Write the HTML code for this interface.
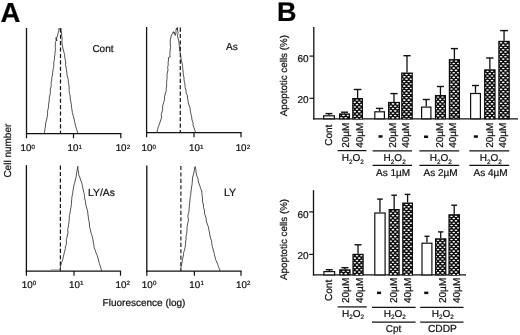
<!DOCTYPE html>
<html><head><meta charset="utf-8"><style>
html,body{margin:0;padding:0;background:#fff;}
body{width:520px;height:335px;overflow:hidden;}
svg{display:block;will-change:transform;}
text{font-family:"Liberation Sans",sans-serif;text-rendering:geometricPrecision;stroke:#111;stroke-width:0.22px;}
</style></head><body>
<svg width="520" height="335" viewBox="0 0 520 335" font-family="Liberation Sans, sans-serif">
<rect width="520" height="335" fill="#fff"/>
<text x="0.5" y="21.9" font-size="27.6" text-anchor="start" fill="#000" font-weight="bold" >A</text>
<text x="276.9" y="21.0" font-size="27" text-anchor="start" fill="#000" font-weight="bold" >B</text>
<line x1="26.5" y1="28" x2="26.5" y2="134.2" stroke="#111" stroke-width="1.3" />
<line x1="25.9" y1="133.6" x2="121.39999999999999" y2="133.6" stroke="#111" stroke-width="1.3" />
<line x1="26.5" y1="133.6" x2="26.5" y2="138.2" stroke="#111" stroke-width="1.2" />
<line x1="73.5" y1="133.6" x2="73.5" y2="138.2" stroke="#111" stroke-width="1.2" />
<line x1="120.8" y1="133.6" x2="120.8" y2="138.2" stroke="#111" stroke-width="1.2" />
<line x1="146.6" y1="27" x2="146.6" y2="133.29999999999998" stroke="#111" stroke-width="1.3" />
<line x1="146.0" y1="132.7" x2="241.6" y2="132.7" stroke="#111" stroke-width="1.3" />
<line x1="146.6" y1="132.7" x2="146.6" y2="137.29999999999998" stroke="#111" stroke-width="1.2" />
<line x1="194" y1="132.7" x2="194" y2="137.29999999999998" stroke="#111" stroke-width="1.2" />
<line x1="241" y1="132.7" x2="241" y2="137.29999999999998" stroke="#111" stroke-width="1.2" />
<line x1="26.4" y1="165.1" x2="26.4" y2="271.70000000000005" stroke="#111" stroke-width="1.3" />
<line x1="25.799999999999997" y1="271.1" x2="121.1" y2="271.1" stroke="#111" stroke-width="1.3" />
<line x1="26.4" y1="271.1" x2="26.4" y2="275.70000000000005" stroke="#111" stroke-width="1.2" />
<line x1="74" y1="271.1" x2="74" y2="275.70000000000005" stroke="#111" stroke-width="1.2" />
<line x1="120.5" y1="271.1" x2="120.5" y2="275.70000000000005" stroke="#111" stroke-width="1.2" />
<line x1="146.8" y1="165.6" x2="146.8" y2="271.70000000000005" stroke="#111" stroke-width="1.3" />
<line x1="146.20000000000002" y1="271.1" x2="241.6" y2="271.1" stroke="#111" stroke-width="1.3" />
<line x1="146.8" y1="271.1" x2="146.8" y2="275.70000000000005" stroke="#111" stroke-width="1.2" />
<line x1="194.4" y1="271.1" x2="194.4" y2="275.70000000000005" stroke="#111" stroke-width="1.2" />
<line x1="241" y1="271.1" x2="241" y2="275.70000000000005" stroke="#111" stroke-width="1.2" />
<text x="26.0" y="150.9" font-size="9.8" text-anchor="middle" fill="#111" >10</text>
<text x="31.6" y="148.6" font-size="6.2" text-anchor="start" fill="#111" >0</text>
<text x="72.9" y="150.9" font-size="9.8" text-anchor="middle" fill="#111" >10</text>
<text x="78.5" y="148.6" font-size="6.2" text-anchor="start" fill="#111" >1</text>
<text x="121.1" y="150.9" font-size="9.8" text-anchor="middle" fill="#111" >10</text>
<text x="126.69999999999999" y="148.6" font-size="6.2" text-anchor="start" fill="#111" >2</text>
<text x="147.0" y="150.9" font-size="9.8" text-anchor="middle" fill="#111" >10</text>
<text x="152.6" y="148.6" font-size="6.2" text-anchor="start" fill="#111" >0</text>
<text x="194.4" y="150.9" font-size="9.8" text-anchor="middle" fill="#111" >10</text>
<text x="200.0" y="148.6" font-size="6.2" text-anchor="start" fill="#111" >1</text>
<text x="241.1" y="150.9" font-size="9.8" text-anchor="middle" fill="#111" >10</text>
<text x="246.7" y="148.6" font-size="6.2" text-anchor="start" fill="#111" >2</text>
<text x="27.2" y="287.5" font-size="9.8" text-anchor="middle" fill="#111" >10</text>
<text x="32.8" y="285.2" font-size="6.2" text-anchor="start" fill="#111" >0</text>
<text x="74.5" y="287.5" font-size="9.8" text-anchor="middle" fill="#111" >10</text>
<text x="80.1" y="285.2" font-size="6.2" text-anchor="start" fill="#111" >1</text>
<text x="121.0" y="287.5" font-size="9.8" text-anchor="middle" fill="#111" >10</text>
<text x="126.6" y="285.2" font-size="6.2" text-anchor="start" fill="#111" >2</text>
<text x="147.3" y="287.5" font-size="9.8" text-anchor="middle" fill="#111" >10</text>
<text x="152.9" y="285.2" font-size="6.2" text-anchor="start" fill="#111" >0</text>
<text x="194.8" y="287.5" font-size="9.8" text-anchor="middle" fill="#111" >10</text>
<text x="200.4" y="285.2" font-size="6.2" text-anchor="start" fill="#111" >1</text>
<text x="241.4" y="287.5" font-size="9.8" text-anchor="middle" fill="#111" >10</text>
<text x="247.0" y="285.2" font-size="6.2" text-anchor="start" fill="#111" >2</text>
<line x1="60.5" y1="28.3" x2="60.5" y2="133.6" stroke="#111" stroke-width="1.2" stroke-dasharray="4.1 2.3"/>
<line x1="180.3" y1="27.6" x2="180.3" y2="132.7" stroke="#111" stroke-width="1.2" stroke-dasharray="4.1 2.3"/>
<line x1="60.4" y1="165.6" x2="60.4" y2="271" stroke="#111" stroke-width="1.2" stroke-dasharray="4.1 2.3"/>
<line x1="180.9" y1="166" x2="180.9" y2="271" stroke="#111" stroke-width="1.1" stroke-dasharray="4.1 2.3"/>
<polyline points="44.3,133.6 44.7,131.07 44.94,128.53 45.5,126.0 45.69,123.0 46.5,120.0 47.19,116.9 47.6,113.8 47.52,111.2 48.23,108.6 48.5,106.0 48.78,103.0 49.3,100.0 49.3,97.2 50.1,94.4 50.41,91.93 50.28,89.47 51.0,87.0 51.21,84.67 51.15,82.33 51.8,80.0 51.78,77.5 52.5,75.0 52.73,72.15 53.1,69.3 53.74,66.65 53.8,64.0 53.81,61.75 54.5,59.5 54.42,57.0 54.95,54.5 55.0,52.0 55.5,49.67 55.27,47.33 55.3,45.0 55.41,42.67 56.13,40.33 55.9,38.0 56.1,37.5 56.8,41.0 56.64,38.5 57.3,36.0 58.2,33.0 58.87,30.65 58.9,28.3 60.0,29.5 61.0,28.3 61.11,30.65 61.6,33.0 61.8,37.0 62.2,38.0 61.95,40.63 61.99,43.27 62.4,45.9 63.3,50.0 64.2,53.2 64.6,54.6 64.73,57.05 65.2,59.5 65.75,62.0 65.45,64.5 66.0,67.0 66.41,69.67 66.79,72.33 67.0,75.0 68.2,79.2 68.42,82.13 68.91,85.07 69.2,88.0 69.14,90.67 69.47,93.33 70.2,96.0 70.29,99.1 70.9,102.2 71.43,104.8 71.57,107.4 72.0,110.0 72.33,112.5 73.0,115.0 73.83,118.0 74.5,121.0 75.06,123.7 75.7,126.4 76.8,130.0 78.1,133.6" fill="none" stroke="#333" stroke-width="0.85" stroke-linejoin="round"/>
<polyline points="157,132.7 157.5,129.55 158.5,126.4 159.8,123.0 160.8,119.6 161.62,117.07 161.26,114.53 162.0,112.0 162.61,109.55 162.48,107.1 163.05,104.65 163.7,102.2 164.55,99.6 164.5,97.0 165.5,93.0 166.3,90.5 166.16,88.24 166.67,85.98 166.62,83.72 166.74,81.46 166.9,79.2 167.1,76.8 167.02,74.4 167.5,72.0 168.03,69.77 167.6,67.53 168.2,65.3 168.11,62.65 168.5,60.0 168.4,57.5 170.2,57.0 169.79,54.6 170.03,52.2 170.18,49.8 170.64,47.4 170.3,45.0 170.24,42.05 170.4,39.1 171.5,35.0 172.5,33.5 173.4,31.6 173.9,33.5 174.4,32.2 175.2,35.5 176.0,33.0 175.9,30.55 176.5,28.1 177.0,30.0 177.6,27.4 177.46,30.0 178.19,32.6 177.43,35.2 177.9,37.8 178.6,40.0 179.06,43.0 179.3,46.0 179.54,49.0 180.0,52.0 180.64,54.9 181.0,57.8 181.35,60.4 182.0,63.0 182.52,65.35 182.7,67.7 182.9,70.13 183.23,72.57 183.3,75.0 184.01,77.5 184.0,80.0 184.57,82.5 185.0,85.0 185.18,87.75 186.0,90.5 186.11,93.0 187.4,95.5 187.5,98.0 187.99,100.33 188.22,102.67 189.0,105.0 190.03,107.93 190.34,110.87 190.9,113.8 191.66,116.9 192.0,120.0 192.94,122.47 193.01,124.93 193.8,127.4 194.75,130.05 195.7,132.7" fill="none" stroke="#333" stroke-width="0.85" stroke-linejoin="round"/>
<polyline points="60.1,271 60.3,268.5 60.5,266.0 61.5,262.8 62.7,259.7 63.32,256.85 64.0,254.0 64.59,251.35 65.4,248.7 65.41,246.47 66.4,244.23 66.4,242.0 66.29,239.67 67.07,237.33 67.4,235.0 68.06,232.33 67.62,229.67 68.3,227.0 68.68,224.17 69.07,221.33 69.3,218.5 69.29,215.75 70.1,213.0 70.39,210.25 70.9,207.5 71.38,204.75 71.5,202.0 71.71,199.25 72.0,196.5 72.65,193.75 72.9,191.0 73.5,188.0 73.74,185.65 74.6,183.3 75.3,180.0 76.0,177.9 76.5,174.0 77.2,170.0 77.8,166.3 77.91,169.15 78.5,172.0 78.7,174.5 79.6,177.0 80.7,180.0 81.9,183.3 82.36,185.65 82.8,188.0 83.7,192.3 84.45,194.53 84.51,196.77 84.8,199.0 85.55,201.9 85.8,204.8 86.7,208.0 87.6,211.0 87.8,213.5 88.2,216.0 88.5,219.1 89.22,222.05 89.5,225.0 89.64,227.5 90.5,230.0 90.86,232.2 91.6,234.4 92.32,236.93 92.94,239.47 93.3,242.0 93.83,244.67 94.13,247.33 95.1,250.0 96.04,252.9 97.4,255.8 98.4,260.0 99.4,263.5 100.5,267.0 101.7,271.0" fill="none" stroke="#333" stroke-width="0.85" stroke-linejoin="round"/>
<polyline points="180.3,271 181.0,267.0 181.7,263.7 182.2,261.47 182.5,259.23 183.0,257.0 183.54,254.77 183.67,252.53 184.4,250.3 185.08,247.53 185.49,244.77 185.6,242.0 186.1,239.2 186.03,236.4 186.7,233.6 186.94,231.2 186.99,228.8 187.15,226.4 187.6,224.0 188.21,221.38 188.45,218.75 187.79,216.12 188.4,213.5 189.02,211.2 189.09,208.9 189.3,206.6 189.54,203.35 190.0,200.1 190.07,197.73 190.69,195.37 190.8,193.0 191.16,190.0 191.6,187.0 192.03,184.67 192.28,182.33 192.4,180.0 192.67,177.0 193.6,174.0 194.4,170.0 195.1,166.5 195.79,169.25 196.0,172.0 196.9,176.1 197.98,178.55 198.2,181.0 199.5,185.0 200.8,188.7 201.72,191.05 201.8,193.4 202.25,196.2 202.5,199.0 202.59,202.0 203.5,205.0 203.5,207.6 204.4,210.2 204.52,213.1 205.3,216.0 206.2,218.5 206.3,221.0 207.3,224.0 208.4,226.9 208.72,229.45 209.4,232.0 209.83,235.0 210.5,238.0 211.51,240.8 211.8,243.6 212.38,246.8 213.3,250.0 213.94,252.33 214.44,254.67 215.1,257.0 215.56,259.5 216.8,262.0 217.68,264.25 218.4,266.5 219.3,268.75 220.2,271.0" fill="none" stroke="#333" stroke-width="0.85" stroke-linejoin="round"/>
<line x1="50.8" y1="269.9" x2="60.2" y2="269.9" stroke="#888" stroke-width="0.9" />
<text x="92.4" y="51.5" font-size="10" text-anchor="start" fill="#111" >Cont</text>
<text x="226" y="50.1" font-size="10" text-anchor="start" fill="#111" >As</text>
<text x="88.1" y="195.7" font-size="10.3" text-anchor="start" fill="#111" >LY/As</text>
<text x="224.0" y="195.9" font-size="10.6" text-anchor="start" fill="#111" >LY</text>
<text transform="translate(10.5,177.6) rotate(-90)" font-size="10" fill="#111">Cell number</text>
<text x="102.6" y="305.8" font-size="10" text-anchor="start" fill="#111" >Fluorescence (log)</text>
<defs><pattern id="chk" x="0.3" y="0.5" width="4.6" height="4.7" patternUnits="userSpaceOnUse">
<rect width="4.6" height="4.7" fill="#0c0c0c"/>
<ellipse cx="1.2" cy="1.2" rx="1.4" ry="0.8" fill="#fff"/>
<ellipse cx="3.5" cy="3.55" rx="1.4" ry="0.8" fill="#fff"/>
</pattern></defs>
<line x1="313.8" y1="27" x2="313.8" y2="119.39999999999999" stroke="#111" stroke-width="1.3" />
<line x1="313.2" y1="118.8" x2="518" y2="118.8" stroke="#111" stroke-width="1.3" />
<line x1="309.5" y1="56.1" x2="313.8" y2="56.1" stroke="#111" stroke-width="1.2" />
<text x="308.6" y="62.2" font-size="10" text-anchor="end" fill="#111" >60</text>
<line x1="309.5" y1="98.3" x2="313.8" y2="98.3" stroke="#111" stroke-width="1.2" />
<text x="308.6" y="102.9" font-size="10" text-anchor="end" fill="#111" >20</text>
<line x1="329.0" y1="113.6" x2="329.0" y2="115.2" stroke="#111" stroke-width="1.3" />
<line x1="325.5" y1="113.6" x2="332.5" y2="113.6" stroke="#111" stroke-width="1.4" />
<rect x="323.6" y="115.8" width="10.8" height="2.9999999999999942" fill="#fff" stroke="#111" stroke-width="1.2"/>
<line x1="344.5" y1="112.2" x2="344.5" y2="113.4" stroke="#111" stroke-width="1.3" />
<line x1="341.0" y1="112.2" x2="348.0" y2="112.2" stroke="#111" stroke-width="1.4" />
<clipPath id="c1"><rect x="340.2" y="114.60000000000001" width="8.600000000000023" height="4.199999999999989"/></clipPath>
<rect x="339.6" y="114.0" width="9.8" height="4.799999999999992" fill="#0c0c0c" stroke="#0c0c0c" stroke-width="1.2"/>
<g clip-path="url(#c1)" fill="#fff"><ellipse cx="339.00" cy="115.40" rx="1.4" ry="0.8"/><ellipse cx="343.50" cy="115.40" rx="1.4" ry="0.8"/><ellipse cx="348.00" cy="115.40" rx="1.4" ry="0.8"/><ellipse cx="341.25" cy="117.73" rx="1.4" ry="0.8"/><ellipse cx="345.75" cy="117.73" rx="1.4" ry="0.8"/><ellipse cx="350.25" cy="117.73" rx="1.4" ry="0.8"/></g>
<line x1="357.6" y1="89.5" x2="357.6" y2="98" stroke="#111" stroke-width="1.3" />
<line x1="353.8" y1="89.5" x2="361.40000000000003" y2="89.5" stroke="#111" stroke-width="1.4" />
<clipPath id="c2"><rect x="353.4" y="99.2" width="8.400000000000034" height="19.599999999999994"/></clipPath>
<rect x="352.8" y="98.6" width="9.600000000000012" height="20.199999999999996" fill="#0c0c0c" stroke="#0c0c0c" stroke-width="1.2"/>
<g clip-path="url(#c2)" fill="#fff"><ellipse cx="352.50" cy="100.00" rx="1.4" ry="0.8"/><ellipse cx="357.00" cy="100.00" rx="1.4" ry="0.8"/><ellipse cx="361.50" cy="100.00" rx="1.4" ry="0.8"/><ellipse cx="354.75" cy="102.33" rx="1.4" ry="0.8"/><ellipse cx="359.25" cy="102.33" rx="1.4" ry="0.8"/><ellipse cx="363.75" cy="102.33" rx="1.4" ry="0.8"/><ellipse cx="352.50" cy="104.66" rx="1.4" ry="0.8"/><ellipse cx="357.00" cy="104.66" rx="1.4" ry="0.8"/><ellipse cx="361.50" cy="104.66" rx="1.4" ry="0.8"/><ellipse cx="354.75" cy="106.99" rx="1.4" ry="0.8"/><ellipse cx="359.25" cy="106.99" rx="1.4" ry="0.8"/><ellipse cx="363.75" cy="106.99" rx="1.4" ry="0.8"/><ellipse cx="352.50" cy="109.32" rx="1.4" ry="0.8"/><ellipse cx="357.00" cy="109.32" rx="1.4" ry="0.8"/><ellipse cx="361.50" cy="109.32" rx="1.4" ry="0.8"/><ellipse cx="354.75" cy="111.65" rx="1.4" ry="0.8"/><ellipse cx="359.25" cy="111.65" rx="1.4" ry="0.8"/><ellipse cx="363.75" cy="111.65" rx="1.4" ry="0.8"/><ellipse cx="352.50" cy="113.98" rx="1.4" ry="0.8"/><ellipse cx="357.00" cy="113.98" rx="1.4" ry="0.8"/><ellipse cx="361.50" cy="113.98" rx="1.4" ry="0.8"/><ellipse cx="354.75" cy="116.31" rx="1.4" ry="0.8"/><ellipse cx="359.25" cy="116.31" rx="1.4" ry="0.8"/><ellipse cx="363.75" cy="116.31" rx="1.4" ry="0.8"/><ellipse cx="352.50" cy="118.64" rx="1.4" ry="0.8"/><ellipse cx="357.00" cy="118.64" rx="1.4" ry="0.8"/><ellipse cx="361.50" cy="118.64" rx="1.4" ry="0.8"/></g>
<line x1="379.6" y1="108.4" x2="379.6" y2="111.2" stroke="#111" stroke-width="1.3" />
<line x1="376.0" y1="108.4" x2="383.20000000000005" y2="108.4" stroke="#111" stroke-width="1.4" />
<rect x="374.8" y="111.8" width="9.600000000000012" height="6.999999999999995" fill="#fff" stroke="#111" stroke-width="1.2"/>
<line x1="394.0" y1="93.6" x2="394.0" y2="101.9" stroke="#111" stroke-width="1.3" />
<line x1="390.4" y1="93.6" x2="397.6" y2="93.6" stroke="#111" stroke-width="1.4" />
<clipPath id="c3"><rect x="389.2" y="103.10000000000001" width="9.600000000000023" height="15.699999999999989"/></clipPath>
<rect x="388.6" y="102.5" width="10.8" height="16.29999999999999" fill="#0c0c0c" stroke="#0c0c0c" stroke-width="1.2"/>
<g clip-path="url(#c3)" fill="#fff"><ellipse cx="388.50" cy="103.90" rx="1.4" ry="0.8"/><ellipse cx="393.00" cy="103.90" rx="1.4" ry="0.8"/><ellipse cx="397.50" cy="103.90" rx="1.4" ry="0.8"/><ellipse cx="390.75" cy="106.23" rx="1.4" ry="0.8"/><ellipse cx="395.25" cy="106.23" rx="1.4" ry="0.8"/><ellipse cx="399.75" cy="106.23" rx="1.4" ry="0.8"/><ellipse cx="388.50" cy="108.56" rx="1.4" ry="0.8"/><ellipse cx="393.00" cy="108.56" rx="1.4" ry="0.8"/><ellipse cx="397.50" cy="108.56" rx="1.4" ry="0.8"/><ellipse cx="390.75" cy="110.89" rx="1.4" ry="0.8"/><ellipse cx="395.25" cy="110.89" rx="1.4" ry="0.8"/><ellipse cx="399.75" cy="110.89" rx="1.4" ry="0.8"/><ellipse cx="388.50" cy="113.22" rx="1.4" ry="0.8"/><ellipse cx="393.00" cy="113.22" rx="1.4" ry="0.8"/><ellipse cx="397.50" cy="113.22" rx="1.4" ry="0.8"/><ellipse cx="390.75" cy="115.55" rx="1.4" ry="0.8"/><ellipse cx="395.25" cy="115.55" rx="1.4" ry="0.8"/><ellipse cx="399.75" cy="115.55" rx="1.4" ry="0.8"/><ellipse cx="388.50" cy="117.88" rx="1.4" ry="0.8"/><ellipse cx="393.00" cy="117.88" rx="1.4" ry="0.8"/><ellipse cx="397.50" cy="117.88" rx="1.4" ry="0.8"/></g>
<line x1="407.0" y1="55.7" x2="407.0" y2="72.5" stroke="#111" stroke-width="1.3" />
<line x1="403.4" y1="55.7" x2="410.6" y2="55.7" stroke="#111" stroke-width="1.4" />
<clipPath id="c4"><rect x="402.4" y="73.7" width="9.200000000000045" height="45.099999999999994"/></clipPath>
<rect x="401.8" y="73.1" width="10.400000000000023" height="45.699999999999996" fill="#0c0c0c" stroke="#0c0c0c" stroke-width="1.2"/>
<g clip-path="url(#c4)" fill="#fff"><ellipse cx="397.50" cy="74.50" rx="1.4" ry="0.8"/><ellipse cx="402.00" cy="74.50" rx="1.4" ry="0.8"/><ellipse cx="406.50" cy="74.50" rx="1.4" ry="0.8"/><ellipse cx="411.00" cy="74.50" rx="1.4" ry="0.8"/><ellipse cx="399.75" cy="76.83" rx="1.4" ry="0.8"/><ellipse cx="404.25" cy="76.83" rx="1.4" ry="0.8"/><ellipse cx="408.75" cy="76.83" rx="1.4" ry="0.8"/><ellipse cx="413.25" cy="76.83" rx="1.4" ry="0.8"/><ellipse cx="397.50" cy="79.16" rx="1.4" ry="0.8"/><ellipse cx="402.00" cy="79.16" rx="1.4" ry="0.8"/><ellipse cx="406.50" cy="79.16" rx="1.4" ry="0.8"/><ellipse cx="411.00" cy="79.16" rx="1.4" ry="0.8"/><ellipse cx="399.75" cy="81.49" rx="1.4" ry="0.8"/><ellipse cx="404.25" cy="81.49" rx="1.4" ry="0.8"/><ellipse cx="408.75" cy="81.49" rx="1.4" ry="0.8"/><ellipse cx="413.25" cy="81.49" rx="1.4" ry="0.8"/><ellipse cx="397.50" cy="83.82" rx="1.4" ry="0.8"/><ellipse cx="402.00" cy="83.82" rx="1.4" ry="0.8"/><ellipse cx="406.50" cy="83.82" rx="1.4" ry="0.8"/><ellipse cx="411.00" cy="83.82" rx="1.4" ry="0.8"/><ellipse cx="399.75" cy="86.15" rx="1.4" ry="0.8"/><ellipse cx="404.25" cy="86.15" rx="1.4" ry="0.8"/><ellipse cx="408.75" cy="86.15" rx="1.4" ry="0.8"/><ellipse cx="413.25" cy="86.15" rx="1.4" ry="0.8"/><ellipse cx="397.50" cy="88.48" rx="1.4" ry="0.8"/><ellipse cx="402.00" cy="88.48" rx="1.4" ry="0.8"/><ellipse cx="406.50" cy="88.48" rx="1.4" ry="0.8"/><ellipse cx="411.00" cy="88.48" rx="1.4" ry="0.8"/><ellipse cx="399.75" cy="90.81" rx="1.4" ry="0.8"/><ellipse cx="404.25" cy="90.81" rx="1.4" ry="0.8"/><ellipse cx="408.75" cy="90.81" rx="1.4" ry="0.8"/><ellipse cx="413.25" cy="90.81" rx="1.4" ry="0.8"/><ellipse cx="397.50" cy="93.14" rx="1.4" ry="0.8"/><ellipse cx="402.00" cy="93.14" rx="1.4" ry="0.8"/><ellipse cx="406.50" cy="93.14" rx="1.4" ry="0.8"/><ellipse cx="411.00" cy="93.14" rx="1.4" ry="0.8"/><ellipse cx="399.75" cy="95.47" rx="1.4" ry="0.8"/><ellipse cx="404.25" cy="95.47" rx="1.4" ry="0.8"/><ellipse cx="408.75" cy="95.47" rx="1.4" ry="0.8"/><ellipse cx="413.25" cy="95.47" rx="1.4" ry="0.8"/><ellipse cx="397.50" cy="97.80" rx="1.4" ry="0.8"/><ellipse cx="402.00" cy="97.80" rx="1.4" ry="0.8"/><ellipse cx="406.50" cy="97.80" rx="1.4" ry="0.8"/><ellipse cx="411.00" cy="97.80" rx="1.4" ry="0.8"/><ellipse cx="399.75" cy="100.13" rx="1.4" ry="0.8"/><ellipse cx="404.25" cy="100.13" rx="1.4" ry="0.8"/><ellipse cx="408.75" cy="100.13" rx="1.4" ry="0.8"/><ellipse cx="413.25" cy="100.13" rx="1.4" ry="0.8"/><ellipse cx="397.50" cy="102.46" rx="1.4" ry="0.8"/><ellipse cx="402.00" cy="102.46" rx="1.4" ry="0.8"/><ellipse cx="406.50" cy="102.46" rx="1.4" ry="0.8"/><ellipse cx="411.00" cy="102.46" rx="1.4" ry="0.8"/><ellipse cx="399.75" cy="104.79" rx="1.4" ry="0.8"/><ellipse cx="404.25" cy="104.79" rx="1.4" ry="0.8"/><ellipse cx="408.75" cy="104.79" rx="1.4" ry="0.8"/><ellipse cx="413.25" cy="104.79" rx="1.4" ry="0.8"/><ellipse cx="397.50" cy="107.12" rx="1.4" ry="0.8"/><ellipse cx="402.00" cy="107.12" rx="1.4" ry="0.8"/><ellipse cx="406.50" cy="107.12" rx="1.4" ry="0.8"/><ellipse cx="411.00" cy="107.12" rx="1.4" ry="0.8"/><ellipse cx="399.75" cy="109.45" rx="1.4" ry="0.8"/><ellipse cx="404.25" cy="109.45" rx="1.4" ry="0.8"/><ellipse cx="408.75" cy="109.45" rx="1.4" ry="0.8"/><ellipse cx="413.25" cy="109.45" rx="1.4" ry="0.8"/><ellipse cx="397.50" cy="111.78" rx="1.4" ry="0.8"/><ellipse cx="402.00" cy="111.78" rx="1.4" ry="0.8"/><ellipse cx="406.50" cy="111.78" rx="1.4" ry="0.8"/><ellipse cx="411.00" cy="111.78" rx="1.4" ry="0.8"/><ellipse cx="399.75" cy="114.11" rx="1.4" ry="0.8"/><ellipse cx="404.25" cy="114.11" rx="1.4" ry="0.8"/><ellipse cx="408.75" cy="114.11" rx="1.4" ry="0.8"/><ellipse cx="413.25" cy="114.11" rx="1.4" ry="0.8"/><ellipse cx="397.50" cy="116.44" rx="1.4" ry="0.8"/><ellipse cx="402.00" cy="116.44" rx="1.4" ry="0.8"/><ellipse cx="406.50" cy="116.44" rx="1.4" ry="0.8"/><ellipse cx="411.00" cy="116.44" rx="1.4" ry="0.8"/><ellipse cx="399.75" cy="118.77" rx="1.4" ry="0.8"/><ellipse cx="404.25" cy="118.77" rx="1.4" ry="0.8"/><ellipse cx="408.75" cy="118.77" rx="1.4" ry="0.8"/><ellipse cx="413.25" cy="118.77" rx="1.4" ry="0.8"/></g>
<line x1="426.25" y1="99.5" x2="426.25" y2="106.5" stroke="#111" stroke-width="1.3" />
<line x1="422.75" y1="99.5" x2="429.75" y2="99.5" stroke="#111" stroke-width="1.4" />
<rect x="421.6" y="107.1" width="9.3" height="11.699999999999998" fill="#fff" stroke="#111" stroke-width="1.2"/>
<line x1="440.45" y1="86.5" x2="440.45" y2="95" stroke="#111" stroke-width="1.3" />
<line x1="436.95" y1="86.5" x2="443.95" y2="86.5" stroke="#111" stroke-width="1.4" />
<clipPath id="c5"><rect x="436.09999999999997" y="96.2" width="8.700000000000045" height="22.599999999999994"/></clipPath>
<rect x="435.5" y="95.6" width="9.900000000000023" height="23.199999999999996" fill="#0c0c0c" stroke="#0c0c0c" stroke-width="1.2"/>
<g clip-path="url(#c5)" fill="#fff"><ellipse cx="433.50" cy="97.00" rx="1.4" ry="0.8"/><ellipse cx="438.00" cy="97.00" rx="1.4" ry="0.8"/><ellipse cx="442.50" cy="97.00" rx="1.4" ry="0.8"/><ellipse cx="435.75" cy="99.33" rx="1.4" ry="0.8"/><ellipse cx="440.25" cy="99.33" rx="1.4" ry="0.8"/><ellipse cx="444.75" cy="99.33" rx="1.4" ry="0.8"/><ellipse cx="433.50" cy="101.66" rx="1.4" ry="0.8"/><ellipse cx="438.00" cy="101.66" rx="1.4" ry="0.8"/><ellipse cx="442.50" cy="101.66" rx="1.4" ry="0.8"/><ellipse cx="435.75" cy="103.99" rx="1.4" ry="0.8"/><ellipse cx="440.25" cy="103.99" rx="1.4" ry="0.8"/><ellipse cx="444.75" cy="103.99" rx="1.4" ry="0.8"/><ellipse cx="433.50" cy="106.32" rx="1.4" ry="0.8"/><ellipse cx="438.00" cy="106.32" rx="1.4" ry="0.8"/><ellipse cx="442.50" cy="106.32" rx="1.4" ry="0.8"/><ellipse cx="435.75" cy="108.65" rx="1.4" ry="0.8"/><ellipse cx="440.25" cy="108.65" rx="1.4" ry="0.8"/><ellipse cx="444.75" cy="108.65" rx="1.4" ry="0.8"/><ellipse cx="433.50" cy="110.98" rx="1.4" ry="0.8"/><ellipse cx="438.00" cy="110.98" rx="1.4" ry="0.8"/><ellipse cx="442.50" cy="110.98" rx="1.4" ry="0.8"/><ellipse cx="435.75" cy="113.31" rx="1.4" ry="0.8"/><ellipse cx="440.25" cy="113.31" rx="1.4" ry="0.8"/><ellipse cx="444.75" cy="113.31" rx="1.4" ry="0.8"/><ellipse cx="433.50" cy="115.64" rx="1.4" ry="0.8"/><ellipse cx="438.00" cy="115.64" rx="1.4" ry="0.8"/><ellipse cx="442.50" cy="115.64" rx="1.4" ry="0.8"/><ellipse cx="435.75" cy="117.97" rx="1.4" ry="0.8"/><ellipse cx="440.25" cy="117.97" rx="1.4" ry="0.8"/><ellipse cx="444.75" cy="117.97" rx="1.4" ry="0.8"/></g>
<line x1="454.4" y1="48.6" x2="454.4" y2="59.1" stroke="#111" stroke-width="1.3" />
<line x1="450.84999999999997" y1="48.6" x2="457.95" y2="48.6" stroke="#111" stroke-width="1.4" />
<clipPath id="c6"><rect x="450.0" y="60.300000000000004" width="8.800000000000011" height="58.49999999999999"/></clipPath>
<rect x="449.40000000000003" y="59.7" width="9.99999999999999" height="59.099999999999994" fill="#0c0c0c" stroke="#0c0c0c" stroke-width="1.2"/>
<g clip-path="url(#c6)" fill="#fff"><ellipse cx="447.00" cy="61.10" rx="1.4" ry="0.8"/><ellipse cx="451.50" cy="61.10" rx="1.4" ry="0.8"/><ellipse cx="456.00" cy="61.10" rx="1.4" ry="0.8"/><ellipse cx="460.50" cy="61.10" rx="1.4" ry="0.8"/><ellipse cx="449.25" cy="63.43" rx="1.4" ry="0.8"/><ellipse cx="453.75" cy="63.43" rx="1.4" ry="0.8"/><ellipse cx="458.25" cy="63.43" rx="1.4" ry="0.8"/><ellipse cx="447.00" cy="65.76" rx="1.4" ry="0.8"/><ellipse cx="451.50" cy="65.76" rx="1.4" ry="0.8"/><ellipse cx="456.00" cy="65.76" rx="1.4" ry="0.8"/><ellipse cx="460.50" cy="65.76" rx="1.4" ry="0.8"/><ellipse cx="449.25" cy="68.09" rx="1.4" ry="0.8"/><ellipse cx="453.75" cy="68.09" rx="1.4" ry="0.8"/><ellipse cx="458.25" cy="68.09" rx="1.4" ry="0.8"/><ellipse cx="447.00" cy="70.42" rx="1.4" ry="0.8"/><ellipse cx="451.50" cy="70.42" rx="1.4" ry="0.8"/><ellipse cx="456.00" cy="70.42" rx="1.4" ry="0.8"/><ellipse cx="460.50" cy="70.42" rx="1.4" ry="0.8"/><ellipse cx="449.25" cy="72.75" rx="1.4" ry="0.8"/><ellipse cx="453.75" cy="72.75" rx="1.4" ry="0.8"/><ellipse cx="458.25" cy="72.75" rx="1.4" ry="0.8"/><ellipse cx="447.00" cy="75.08" rx="1.4" ry="0.8"/><ellipse cx="451.50" cy="75.08" rx="1.4" ry="0.8"/><ellipse cx="456.00" cy="75.08" rx="1.4" ry="0.8"/><ellipse cx="460.50" cy="75.08" rx="1.4" ry="0.8"/><ellipse cx="449.25" cy="77.41" rx="1.4" ry="0.8"/><ellipse cx="453.75" cy="77.41" rx="1.4" ry="0.8"/><ellipse cx="458.25" cy="77.41" rx="1.4" ry="0.8"/><ellipse cx="447.00" cy="79.74" rx="1.4" ry="0.8"/><ellipse cx="451.50" cy="79.74" rx="1.4" ry="0.8"/><ellipse cx="456.00" cy="79.74" rx="1.4" ry="0.8"/><ellipse cx="460.50" cy="79.74" rx="1.4" ry="0.8"/><ellipse cx="449.25" cy="82.07" rx="1.4" ry="0.8"/><ellipse cx="453.75" cy="82.07" rx="1.4" ry="0.8"/><ellipse cx="458.25" cy="82.07" rx="1.4" ry="0.8"/><ellipse cx="447.00" cy="84.40" rx="1.4" ry="0.8"/><ellipse cx="451.50" cy="84.40" rx="1.4" ry="0.8"/><ellipse cx="456.00" cy="84.40" rx="1.4" ry="0.8"/><ellipse cx="460.50" cy="84.40" rx="1.4" ry="0.8"/><ellipse cx="449.25" cy="86.73" rx="1.4" ry="0.8"/><ellipse cx="453.75" cy="86.73" rx="1.4" ry="0.8"/><ellipse cx="458.25" cy="86.73" rx="1.4" ry="0.8"/><ellipse cx="447.00" cy="89.06" rx="1.4" ry="0.8"/><ellipse cx="451.50" cy="89.06" rx="1.4" ry="0.8"/><ellipse cx="456.00" cy="89.06" rx="1.4" ry="0.8"/><ellipse cx="460.50" cy="89.06" rx="1.4" ry="0.8"/><ellipse cx="449.25" cy="91.39" rx="1.4" ry="0.8"/><ellipse cx="453.75" cy="91.39" rx="1.4" ry="0.8"/><ellipse cx="458.25" cy="91.39" rx="1.4" ry="0.8"/><ellipse cx="447.00" cy="93.72" rx="1.4" ry="0.8"/><ellipse cx="451.50" cy="93.72" rx="1.4" ry="0.8"/><ellipse cx="456.00" cy="93.72" rx="1.4" ry="0.8"/><ellipse cx="460.50" cy="93.72" rx="1.4" ry="0.8"/><ellipse cx="449.25" cy="96.05" rx="1.4" ry="0.8"/><ellipse cx="453.75" cy="96.05" rx="1.4" ry="0.8"/><ellipse cx="458.25" cy="96.05" rx="1.4" ry="0.8"/><ellipse cx="447.00" cy="98.38" rx="1.4" ry="0.8"/><ellipse cx="451.50" cy="98.38" rx="1.4" ry="0.8"/><ellipse cx="456.00" cy="98.38" rx="1.4" ry="0.8"/><ellipse cx="460.50" cy="98.38" rx="1.4" ry="0.8"/><ellipse cx="449.25" cy="100.71" rx="1.4" ry="0.8"/><ellipse cx="453.75" cy="100.71" rx="1.4" ry="0.8"/><ellipse cx="458.25" cy="100.71" rx="1.4" ry="0.8"/><ellipse cx="447.00" cy="103.04" rx="1.4" ry="0.8"/><ellipse cx="451.50" cy="103.04" rx="1.4" ry="0.8"/><ellipse cx="456.00" cy="103.04" rx="1.4" ry="0.8"/><ellipse cx="460.50" cy="103.04" rx="1.4" ry="0.8"/><ellipse cx="449.25" cy="105.37" rx="1.4" ry="0.8"/><ellipse cx="453.75" cy="105.37" rx="1.4" ry="0.8"/><ellipse cx="458.25" cy="105.37" rx="1.4" ry="0.8"/><ellipse cx="447.00" cy="107.70" rx="1.4" ry="0.8"/><ellipse cx="451.50" cy="107.70" rx="1.4" ry="0.8"/><ellipse cx="456.00" cy="107.70" rx="1.4" ry="0.8"/><ellipse cx="460.50" cy="107.70" rx="1.4" ry="0.8"/><ellipse cx="449.25" cy="110.03" rx="1.4" ry="0.8"/><ellipse cx="453.75" cy="110.03" rx="1.4" ry="0.8"/><ellipse cx="458.25" cy="110.03" rx="1.4" ry="0.8"/><ellipse cx="447.00" cy="112.36" rx="1.4" ry="0.8"/><ellipse cx="451.50" cy="112.36" rx="1.4" ry="0.8"/><ellipse cx="456.00" cy="112.36" rx="1.4" ry="0.8"/><ellipse cx="460.50" cy="112.36" rx="1.4" ry="0.8"/><ellipse cx="449.25" cy="114.69" rx="1.4" ry="0.8"/><ellipse cx="453.75" cy="114.69" rx="1.4" ry="0.8"/><ellipse cx="458.25" cy="114.69" rx="1.4" ry="0.8"/><ellipse cx="447.00" cy="117.02" rx="1.4" ry="0.8"/><ellipse cx="451.50" cy="117.02" rx="1.4" ry="0.8"/><ellipse cx="456.00" cy="117.02" rx="1.4" ry="0.8"/><ellipse cx="460.50" cy="117.02" rx="1.4" ry="0.8"/><ellipse cx="449.25" cy="119.35" rx="1.4" ry="0.8"/><ellipse cx="453.75" cy="119.35" rx="1.4" ry="0.8"/><ellipse cx="458.25" cy="119.35" rx="1.4" ry="0.8"/></g>
<line x1="475.5" y1="85.5" x2="475.5" y2="92.9" stroke="#111" stroke-width="1.3" />
<line x1="472.0" y1="85.5" x2="479.0" y2="85.5" stroke="#111" stroke-width="1.4" />
<rect x="470.6" y="93.5" width="9.8" height="25.29999999999999" fill="#fff" stroke="#111" stroke-width="1.2"/>
<line x1="489.85" y1="58" x2="489.85" y2="69.3" stroke="#111" stroke-width="1.3" />
<line x1="486.15000000000003" y1="58" x2="493.55" y2="58" stroke="#111" stroke-width="1.4" />
<clipPath id="c7"><rect x="485.3" y="70.5" width="9.100000000000023" height="48.3"/></clipPath>
<rect x="484.70000000000005" y="69.89999999999999" width="10.3" height="48.9" fill="#0c0c0c" stroke="#0c0c0c" stroke-width="1.2"/>
<g clip-path="url(#c7)" fill="#fff"><ellipse cx="483.00" cy="71.30" rx="1.4" ry="0.8"/><ellipse cx="487.50" cy="71.30" rx="1.4" ry="0.8"/><ellipse cx="492.00" cy="71.30" rx="1.4" ry="0.8"/><ellipse cx="485.25" cy="73.63" rx="1.4" ry="0.8"/><ellipse cx="489.75" cy="73.63" rx="1.4" ry="0.8"/><ellipse cx="494.25" cy="73.63" rx="1.4" ry="0.8"/><ellipse cx="483.00" cy="75.96" rx="1.4" ry="0.8"/><ellipse cx="487.50" cy="75.96" rx="1.4" ry="0.8"/><ellipse cx="492.00" cy="75.96" rx="1.4" ry="0.8"/><ellipse cx="485.25" cy="78.29" rx="1.4" ry="0.8"/><ellipse cx="489.75" cy="78.29" rx="1.4" ry="0.8"/><ellipse cx="494.25" cy="78.29" rx="1.4" ry="0.8"/><ellipse cx="483.00" cy="80.62" rx="1.4" ry="0.8"/><ellipse cx="487.50" cy="80.62" rx="1.4" ry="0.8"/><ellipse cx="492.00" cy="80.62" rx="1.4" ry="0.8"/><ellipse cx="485.25" cy="82.95" rx="1.4" ry="0.8"/><ellipse cx="489.75" cy="82.95" rx="1.4" ry="0.8"/><ellipse cx="494.25" cy="82.95" rx="1.4" ry="0.8"/><ellipse cx="483.00" cy="85.28" rx="1.4" ry="0.8"/><ellipse cx="487.50" cy="85.28" rx="1.4" ry="0.8"/><ellipse cx="492.00" cy="85.28" rx="1.4" ry="0.8"/><ellipse cx="485.25" cy="87.61" rx="1.4" ry="0.8"/><ellipse cx="489.75" cy="87.61" rx="1.4" ry="0.8"/><ellipse cx="494.25" cy="87.61" rx="1.4" ry="0.8"/><ellipse cx="483.00" cy="89.94" rx="1.4" ry="0.8"/><ellipse cx="487.50" cy="89.94" rx="1.4" ry="0.8"/><ellipse cx="492.00" cy="89.94" rx="1.4" ry="0.8"/><ellipse cx="485.25" cy="92.27" rx="1.4" ry="0.8"/><ellipse cx="489.75" cy="92.27" rx="1.4" ry="0.8"/><ellipse cx="494.25" cy="92.27" rx="1.4" ry="0.8"/><ellipse cx="483.00" cy="94.60" rx="1.4" ry="0.8"/><ellipse cx="487.50" cy="94.60" rx="1.4" ry="0.8"/><ellipse cx="492.00" cy="94.60" rx="1.4" ry="0.8"/><ellipse cx="485.25" cy="96.93" rx="1.4" ry="0.8"/><ellipse cx="489.75" cy="96.93" rx="1.4" ry="0.8"/><ellipse cx="494.25" cy="96.93" rx="1.4" ry="0.8"/><ellipse cx="483.00" cy="99.26" rx="1.4" ry="0.8"/><ellipse cx="487.50" cy="99.26" rx="1.4" ry="0.8"/><ellipse cx="492.00" cy="99.26" rx="1.4" ry="0.8"/><ellipse cx="485.25" cy="101.59" rx="1.4" ry="0.8"/><ellipse cx="489.75" cy="101.59" rx="1.4" ry="0.8"/><ellipse cx="494.25" cy="101.59" rx="1.4" ry="0.8"/><ellipse cx="483.00" cy="103.92" rx="1.4" ry="0.8"/><ellipse cx="487.50" cy="103.92" rx="1.4" ry="0.8"/><ellipse cx="492.00" cy="103.92" rx="1.4" ry="0.8"/><ellipse cx="485.25" cy="106.25" rx="1.4" ry="0.8"/><ellipse cx="489.75" cy="106.25" rx="1.4" ry="0.8"/><ellipse cx="494.25" cy="106.25" rx="1.4" ry="0.8"/><ellipse cx="483.00" cy="108.58" rx="1.4" ry="0.8"/><ellipse cx="487.50" cy="108.58" rx="1.4" ry="0.8"/><ellipse cx="492.00" cy="108.58" rx="1.4" ry="0.8"/><ellipse cx="485.25" cy="110.91" rx="1.4" ry="0.8"/><ellipse cx="489.75" cy="110.91" rx="1.4" ry="0.8"/><ellipse cx="494.25" cy="110.91" rx="1.4" ry="0.8"/><ellipse cx="483.00" cy="113.24" rx="1.4" ry="0.8"/><ellipse cx="487.50" cy="113.24" rx="1.4" ry="0.8"/><ellipse cx="492.00" cy="113.24" rx="1.4" ry="0.8"/><ellipse cx="485.25" cy="115.57" rx="1.4" ry="0.8"/><ellipse cx="489.75" cy="115.57" rx="1.4" ry="0.8"/><ellipse cx="494.25" cy="115.57" rx="1.4" ry="0.8"/><ellipse cx="483.00" cy="117.90" rx="1.4" ry="0.8"/><ellipse cx="487.50" cy="117.90" rx="1.4" ry="0.8"/><ellipse cx="492.00" cy="117.90" rx="1.4" ry="0.8"/></g>
<line x1="504.05" y1="30.6" x2="504.05" y2="40.8" stroke="#111" stroke-width="1.3" />
<line x1="500.15000000000003" y1="30.6" x2="507.95" y2="30.6" stroke="#111" stroke-width="1.4" />
<clipPath id="c8"><rect x="499.5" y="42.0" width="9.100000000000023" height="76.8"/></clipPath>
<rect x="498.90000000000003" y="41.4" width="10.3" height="77.4" fill="#0c0c0c" stroke="#0c0c0c" stroke-width="1.2"/>
<g clip-path="url(#c8)" fill="#fff"><ellipse cx="496.50" cy="42.80" rx="1.4" ry="0.8"/><ellipse cx="501.00" cy="42.80" rx="1.4" ry="0.8"/><ellipse cx="505.50" cy="42.80" rx="1.4" ry="0.8"/><ellipse cx="510.00" cy="42.80" rx="1.4" ry="0.8"/><ellipse cx="498.75" cy="45.13" rx="1.4" ry="0.8"/><ellipse cx="503.25" cy="45.13" rx="1.4" ry="0.8"/><ellipse cx="507.75" cy="45.13" rx="1.4" ry="0.8"/><ellipse cx="496.50" cy="47.46" rx="1.4" ry="0.8"/><ellipse cx="501.00" cy="47.46" rx="1.4" ry="0.8"/><ellipse cx="505.50" cy="47.46" rx="1.4" ry="0.8"/><ellipse cx="510.00" cy="47.46" rx="1.4" ry="0.8"/><ellipse cx="498.75" cy="49.79" rx="1.4" ry="0.8"/><ellipse cx="503.25" cy="49.79" rx="1.4" ry="0.8"/><ellipse cx="507.75" cy="49.79" rx="1.4" ry="0.8"/><ellipse cx="496.50" cy="52.12" rx="1.4" ry="0.8"/><ellipse cx="501.00" cy="52.12" rx="1.4" ry="0.8"/><ellipse cx="505.50" cy="52.12" rx="1.4" ry="0.8"/><ellipse cx="510.00" cy="52.12" rx="1.4" ry="0.8"/><ellipse cx="498.75" cy="54.45" rx="1.4" ry="0.8"/><ellipse cx="503.25" cy="54.45" rx="1.4" ry="0.8"/><ellipse cx="507.75" cy="54.45" rx="1.4" ry="0.8"/><ellipse cx="496.50" cy="56.78" rx="1.4" ry="0.8"/><ellipse cx="501.00" cy="56.78" rx="1.4" ry="0.8"/><ellipse cx="505.50" cy="56.78" rx="1.4" ry="0.8"/><ellipse cx="510.00" cy="56.78" rx="1.4" ry="0.8"/><ellipse cx="498.75" cy="59.11" rx="1.4" ry="0.8"/><ellipse cx="503.25" cy="59.11" rx="1.4" ry="0.8"/><ellipse cx="507.75" cy="59.11" rx="1.4" ry="0.8"/><ellipse cx="496.50" cy="61.44" rx="1.4" ry="0.8"/><ellipse cx="501.00" cy="61.44" rx="1.4" ry="0.8"/><ellipse cx="505.50" cy="61.44" rx="1.4" ry="0.8"/><ellipse cx="510.00" cy="61.44" rx="1.4" ry="0.8"/><ellipse cx="498.75" cy="63.77" rx="1.4" ry="0.8"/><ellipse cx="503.25" cy="63.77" rx="1.4" ry="0.8"/><ellipse cx="507.75" cy="63.77" rx="1.4" ry="0.8"/><ellipse cx="496.50" cy="66.10" rx="1.4" ry="0.8"/><ellipse cx="501.00" cy="66.10" rx="1.4" ry="0.8"/><ellipse cx="505.50" cy="66.10" rx="1.4" ry="0.8"/><ellipse cx="510.00" cy="66.10" rx="1.4" ry="0.8"/><ellipse cx="498.75" cy="68.43" rx="1.4" ry="0.8"/><ellipse cx="503.25" cy="68.43" rx="1.4" ry="0.8"/><ellipse cx="507.75" cy="68.43" rx="1.4" ry="0.8"/><ellipse cx="496.50" cy="70.76" rx="1.4" ry="0.8"/><ellipse cx="501.00" cy="70.76" rx="1.4" ry="0.8"/><ellipse cx="505.50" cy="70.76" rx="1.4" ry="0.8"/><ellipse cx="510.00" cy="70.76" rx="1.4" ry="0.8"/><ellipse cx="498.75" cy="73.09" rx="1.4" ry="0.8"/><ellipse cx="503.25" cy="73.09" rx="1.4" ry="0.8"/><ellipse cx="507.75" cy="73.09" rx="1.4" ry="0.8"/><ellipse cx="496.50" cy="75.42" rx="1.4" ry="0.8"/><ellipse cx="501.00" cy="75.42" rx="1.4" ry="0.8"/><ellipse cx="505.50" cy="75.42" rx="1.4" ry="0.8"/><ellipse cx="510.00" cy="75.42" rx="1.4" ry="0.8"/><ellipse cx="498.75" cy="77.75" rx="1.4" ry="0.8"/><ellipse cx="503.25" cy="77.75" rx="1.4" ry="0.8"/><ellipse cx="507.75" cy="77.75" rx="1.4" ry="0.8"/><ellipse cx="496.50" cy="80.08" rx="1.4" ry="0.8"/><ellipse cx="501.00" cy="80.08" rx="1.4" ry="0.8"/><ellipse cx="505.50" cy="80.08" rx="1.4" ry="0.8"/><ellipse cx="510.00" cy="80.08" rx="1.4" ry="0.8"/><ellipse cx="498.75" cy="82.41" rx="1.4" ry="0.8"/><ellipse cx="503.25" cy="82.41" rx="1.4" ry="0.8"/><ellipse cx="507.75" cy="82.41" rx="1.4" ry="0.8"/><ellipse cx="496.50" cy="84.74" rx="1.4" ry="0.8"/><ellipse cx="501.00" cy="84.74" rx="1.4" ry="0.8"/><ellipse cx="505.50" cy="84.74" rx="1.4" ry="0.8"/><ellipse cx="510.00" cy="84.74" rx="1.4" ry="0.8"/><ellipse cx="498.75" cy="87.07" rx="1.4" ry="0.8"/><ellipse cx="503.25" cy="87.07" rx="1.4" ry="0.8"/><ellipse cx="507.75" cy="87.07" rx="1.4" ry="0.8"/><ellipse cx="496.50" cy="89.40" rx="1.4" ry="0.8"/><ellipse cx="501.00" cy="89.40" rx="1.4" ry="0.8"/><ellipse cx="505.50" cy="89.40" rx="1.4" ry="0.8"/><ellipse cx="510.00" cy="89.40" rx="1.4" ry="0.8"/><ellipse cx="498.75" cy="91.73" rx="1.4" ry="0.8"/><ellipse cx="503.25" cy="91.73" rx="1.4" ry="0.8"/><ellipse cx="507.75" cy="91.73" rx="1.4" ry="0.8"/><ellipse cx="496.50" cy="94.06" rx="1.4" ry="0.8"/><ellipse cx="501.00" cy="94.06" rx="1.4" ry="0.8"/><ellipse cx="505.50" cy="94.06" rx="1.4" ry="0.8"/><ellipse cx="510.00" cy="94.06" rx="1.4" ry="0.8"/><ellipse cx="498.75" cy="96.39" rx="1.4" ry="0.8"/><ellipse cx="503.25" cy="96.39" rx="1.4" ry="0.8"/><ellipse cx="507.75" cy="96.39" rx="1.4" ry="0.8"/><ellipse cx="496.50" cy="98.72" rx="1.4" ry="0.8"/><ellipse cx="501.00" cy="98.72" rx="1.4" ry="0.8"/><ellipse cx="505.50" cy="98.72" rx="1.4" ry="0.8"/><ellipse cx="510.00" cy="98.72" rx="1.4" ry="0.8"/><ellipse cx="498.75" cy="101.05" rx="1.4" ry="0.8"/><ellipse cx="503.25" cy="101.05" rx="1.4" ry="0.8"/><ellipse cx="507.75" cy="101.05" rx="1.4" ry="0.8"/><ellipse cx="496.50" cy="103.38" rx="1.4" ry="0.8"/><ellipse cx="501.00" cy="103.38" rx="1.4" ry="0.8"/><ellipse cx="505.50" cy="103.38" rx="1.4" ry="0.8"/><ellipse cx="510.00" cy="103.38" rx="1.4" ry="0.8"/><ellipse cx="498.75" cy="105.71" rx="1.4" ry="0.8"/><ellipse cx="503.25" cy="105.71" rx="1.4" ry="0.8"/><ellipse cx="507.75" cy="105.71" rx="1.4" ry="0.8"/><ellipse cx="496.50" cy="108.04" rx="1.4" ry="0.8"/><ellipse cx="501.00" cy="108.04" rx="1.4" ry="0.8"/><ellipse cx="505.50" cy="108.04" rx="1.4" ry="0.8"/><ellipse cx="510.00" cy="108.04" rx="1.4" ry="0.8"/><ellipse cx="498.75" cy="110.37" rx="1.4" ry="0.8"/><ellipse cx="503.25" cy="110.37" rx="1.4" ry="0.8"/><ellipse cx="507.75" cy="110.37" rx="1.4" ry="0.8"/><ellipse cx="496.50" cy="112.70" rx="1.4" ry="0.8"/><ellipse cx="501.00" cy="112.70" rx="1.4" ry="0.8"/><ellipse cx="505.50" cy="112.70" rx="1.4" ry="0.8"/><ellipse cx="510.00" cy="112.70" rx="1.4" ry="0.8"/><ellipse cx="498.75" cy="115.03" rx="1.4" ry="0.8"/><ellipse cx="503.25" cy="115.03" rx="1.4" ry="0.8"/><ellipse cx="507.75" cy="115.03" rx="1.4" ry="0.8"/><ellipse cx="496.50" cy="117.36" rx="1.4" ry="0.8"/><ellipse cx="501.00" cy="117.36" rx="1.4" ry="0.8"/><ellipse cx="505.50" cy="117.36" rx="1.4" ry="0.8"/><ellipse cx="510.00" cy="117.36" rx="1.4" ry="0.8"/><ellipse cx="498.75" cy="119.69" rx="1.4" ry="0.8"/><ellipse cx="503.25" cy="119.69" rx="1.4" ry="0.8"/><ellipse cx="507.75" cy="119.69" rx="1.4" ry="0.8"/></g>
<line x1="313.5" y1="190.2" x2="313.5" y2="275.5" stroke="#111" stroke-width="1.3" />
<line x1="312.9" y1="274.9" x2="466" y2="274.9" stroke="#111" stroke-width="1.3" />
<line x1="309.2" y1="211.9" x2="313.5" y2="211.9" stroke="#111" stroke-width="1.2" />
<text x="308.6" y="218.3" font-size="10" text-anchor="end" fill="#111" >60</text>
<line x1="309.2" y1="254.4" x2="313.5" y2="254.4" stroke="#111" stroke-width="1.2" />
<text x="308.6" y="259" font-size="10" text-anchor="end" fill="#111" >20</text>
<line x1="329.25" y1="269.7" x2="329.25" y2="271" stroke="#111" stroke-width="1.3" />
<line x1="325.75" y1="269.7" x2="332.75" y2="269.7" stroke="#111" stroke-width="1.4" />
<rect x="323.90000000000003" y="271.6" width="10.699999999999978" height="3.299999999999977" fill="#fff" stroke="#111" stroke-width="1.2"/>
<line x1="344.9" y1="267.7" x2="344.9" y2="269.3" stroke="#111" stroke-width="1.3" />
<line x1="341.4" y1="267.7" x2="348.4" y2="267.7" stroke="#111" stroke-width="1.4" />
<clipPath id="c9"><rect x="340.4" y="270.5" width="9.000000000000057" height="4.399999999999977"/></clipPath>
<rect x="339.8" y="269.90000000000003" width="10.200000000000035" height="4.999999999999966" fill="#0c0c0c" stroke="#0c0c0c" stroke-width="1.2"/>
<g clip-path="url(#c9)" fill="#fff"><ellipse cx="339.00" cy="271.30" rx="1.4" ry="0.8"/><ellipse cx="343.50" cy="271.30" rx="1.4" ry="0.8"/><ellipse cx="348.00" cy="271.30" rx="1.4" ry="0.8"/><ellipse cx="341.25" cy="273.63" rx="1.4" ry="0.8"/><ellipse cx="345.75" cy="273.63" rx="1.4" ry="0.8"/><ellipse cx="350.25" cy="273.63" rx="1.4" ry="0.8"/></g>
<line x1="358.04999999999995" y1="244.8" x2="358.04999999999995" y2="253.8" stroke="#111" stroke-width="1.3" />
<line x1="354.54999999999995" y1="244.8" x2="361.54999999999995" y2="244.8" stroke="#111" stroke-width="1.4" />
<clipPath id="c10"><rect x="353.59999999999997" y="255.0" width="8.900000000000034" height="19.899999999999977"/></clipPath>
<rect x="353.0" y="254.4" width="10.100000000000012" height="20.499999999999964" fill="#0c0c0c" stroke="#0c0c0c" stroke-width="1.2"/>
<g clip-path="url(#c10)" fill="#fff"><ellipse cx="352.50" cy="255.80" rx="1.4" ry="0.8"/><ellipse cx="357.00" cy="255.80" rx="1.4" ry="0.8"/><ellipse cx="361.50" cy="255.80" rx="1.4" ry="0.8"/><ellipse cx="354.75" cy="258.13" rx="1.4" ry="0.8"/><ellipse cx="359.25" cy="258.13" rx="1.4" ry="0.8"/><ellipse cx="363.75" cy="258.13" rx="1.4" ry="0.8"/><ellipse cx="352.50" cy="260.46" rx="1.4" ry="0.8"/><ellipse cx="357.00" cy="260.46" rx="1.4" ry="0.8"/><ellipse cx="361.50" cy="260.46" rx="1.4" ry="0.8"/><ellipse cx="354.75" cy="262.79" rx="1.4" ry="0.8"/><ellipse cx="359.25" cy="262.79" rx="1.4" ry="0.8"/><ellipse cx="363.75" cy="262.79" rx="1.4" ry="0.8"/><ellipse cx="352.50" cy="265.12" rx="1.4" ry="0.8"/><ellipse cx="357.00" cy="265.12" rx="1.4" ry="0.8"/><ellipse cx="361.50" cy="265.12" rx="1.4" ry="0.8"/><ellipse cx="354.75" cy="267.45" rx="1.4" ry="0.8"/><ellipse cx="359.25" cy="267.45" rx="1.4" ry="0.8"/><ellipse cx="363.75" cy="267.45" rx="1.4" ry="0.8"/><ellipse cx="352.50" cy="269.78" rx="1.4" ry="0.8"/><ellipse cx="357.00" cy="269.78" rx="1.4" ry="0.8"/><ellipse cx="361.50" cy="269.78" rx="1.4" ry="0.8"/><ellipse cx="354.75" cy="272.11" rx="1.4" ry="0.8"/><ellipse cx="359.25" cy="272.11" rx="1.4" ry="0.8"/><ellipse cx="363.75" cy="272.11" rx="1.4" ry="0.8"/><ellipse cx="352.50" cy="274.44" rx="1.4" ry="0.8"/><ellipse cx="357.00" cy="274.44" rx="1.4" ry="0.8"/><ellipse cx="361.50" cy="274.44" rx="1.4" ry="0.8"/></g>
<line x1="379.95" y1="199.1" x2="379.95" y2="212.4" stroke="#111" stroke-width="1.3" />
<line x1="377.15" y1="199.1" x2="382.75" y2="199.1" stroke="#111" stroke-width="1.4" />
<rect x="374.8" y="213.0" width="10.3" height="61.89999999999997" fill="#fff" stroke="#111" stroke-width="1.2"/>
<line x1="394.15" y1="195.2" x2="394.15" y2="209" stroke="#111" stroke-width="1.3" />
<line x1="391.34999999999997" y1="195.2" x2="396.95" y2="195.2" stroke="#111" stroke-width="1.4" />
<clipPath id="c11"><rect x="389.8" y="210.2" width="8.699999999999989" height="64.69999999999999"/></clipPath>
<rect x="389.20000000000005" y="209.6" width="9.899999999999967" height="65.29999999999998" fill="#0c0c0c" stroke="#0c0c0c" stroke-width="1.2"/>
<g clip-path="url(#c11)" fill="#fff"><ellipse cx="388.50" cy="211.00" rx="1.4" ry="0.8"/><ellipse cx="393.00" cy="211.00" rx="1.4" ry="0.8"/><ellipse cx="397.50" cy="211.00" rx="1.4" ry="0.8"/><ellipse cx="390.75" cy="213.33" rx="1.4" ry="0.8"/><ellipse cx="395.25" cy="213.33" rx="1.4" ry="0.8"/><ellipse cx="399.75" cy="213.33" rx="1.4" ry="0.8"/><ellipse cx="388.50" cy="215.66" rx="1.4" ry="0.8"/><ellipse cx="393.00" cy="215.66" rx="1.4" ry="0.8"/><ellipse cx="397.50" cy="215.66" rx="1.4" ry="0.8"/><ellipse cx="390.75" cy="217.99" rx="1.4" ry="0.8"/><ellipse cx="395.25" cy="217.99" rx="1.4" ry="0.8"/><ellipse cx="399.75" cy="217.99" rx="1.4" ry="0.8"/><ellipse cx="388.50" cy="220.32" rx="1.4" ry="0.8"/><ellipse cx="393.00" cy="220.32" rx="1.4" ry="0.8"/><ellipse cx="397.50" cy="220.32" rx="1.4" ry="0.8"/><ellipse cx="390.75" cy="222.65" rx="1.4" ry="0.8"/><ellipse cx="395.25" cy="222.65" rx="1.4" ry="0.8"/><ellipse cx="399.75" cy="222.65" rx="1.4" ry="0.8"/><ellipse cx="388.50" cy="224.98" rx="1.4" ry="0.8"/><ellipse cx="393.00" cy="224.98" rx="1.4" ry="0.8"/><ellipse cx="397.50" cy="224.98" rx="1.4" ry="0.8"/><ellipse cx="390.75" cy="227.31" rx="1.4" ry="0.8"/><ellipse cx="395.25" cy="227.31" rx="1.4" ry="0.8"/><ellipse cx="399.75" cy="227.31" rx="1.4" ry="0.8"/><ellipse cx="388.50" cy="229.64" rx="1.4" ry="0.8"/><ellipse cx="393.00" cy="229.64" rx="1.4" ry="0.8"/><ellipse cx="397.50" cy="229.64" rx="1.4" ry="0.8"/><ellipse cx="390.75" cy="231.97" rx="1.4" ry="0.8"/><ellipse cx="395.25" cy="231.97" rx="1.4" ry="0.8"/><ellipse cx="399.75" cy="231.97" rx="1.4" ry="0.8"/><ellipse cx="388.50" cy="234.30" rx="1.4" ry="0.8"/><ellipse cx="393.00" cy="234.30" rx="1.4" ry="0.8"/><ellipse cx="397.50" cy="234.30" rx="1.4" ry="0.8"/><ellipse cx="390.75" cy="236.63" rx="1.4" ry="0.8"/><ellipse cx="395.25" cy="236.63" rx="1.4" ry="0.8"/><ellipse cx="399.75" cy="236.63" rx="1.4" ry="0.8"/><ellipse cx="388.50" cy="238.96" rx="1.4" ry="0.8"/><ellipse cx="393.00" cy="238.96" rx="1.4" ry="0.8"/><ellipse cx="397.50" cy="238.96" rx="1.4" ry="0.8"/><ellipse cx="390.75" cy="241.29" rx="1.4" ry="0.8"/><ellipse cx="395.25" cy="241.29" rx="1.4" ry="0.8"/><ellipse cx="399.75" cy="241.29" rx="1.4" ry="0.8"/><ellipse cx="388.50" cy="243.62" rx="1.4" ry="0.8"/><ellipse cx="393.00" cy="243.62" rx="1.4" ry="0.8"/><ellipse cx="397.50" cy="243.62" rx="1.4" ry="0.8"/><ellipse cx="390.75" cy="245.95" rx="1.4" ry="0.8"/><ellipse cx="395.25" cy="245.95" rx="1.4" ry="0.8"/><ellipse cx="399.75" cy="245.95" rx="1.4" ry="0.8"/><ellipse cx="388.50" cy="248.28" rx="1.4" ry="0.8"/><ellipse cx="393.00" cy="248.28" rx="1.4" ry="0.8"/><ellipse cx="397.50" cy="248.28" rx="1.4" ry="0.8"/><ellipse cx="390.75" cy="250.61" rx="1.4" ry="0.8"/><ellipse cx="395.25" cy="250.61" rx="1.4" ry="0.8"/><ellipse cx="399.75" cy="250.61" rx="1.4" ry="0.8"/><ellipse cx="388.50" cy="252.94" rx="1.4" ry="0.8"/><ellipse cx="393.00" cy="252.94" rx="1.4" ry="0.8"/><ellipse cx="397.50" cy="252.94" rx="1.4" ry="0.8"/><ellipse cx="390.75" cy="255.27" rx="1.4" ry="0.8"/><ellipse cx="395.25" cy="255.27" rx="1.4" ry="0.8"/><ellipse cx="399.75" cy="255.27" rx="1.4" ry="0.8"/><ellipse cx="388.50" cy="257.60" rx="1.4" ry="0.8"/><ellipse cx="393.00" cy="257.60" rx="1.4" ry="0.8"/><ellipse cx="397.50" cy="257.60" rx="1.4" ry="0.8"/><ellipse cx="390.75" cy="259.93" rx="1.4" ry="0.8"/><ellipse cx="395.25" cy="259.93" rx="1.4" ry="0.8"/><ellipse cx="399.75" cy="259.93" rx="1.4" ry="0.8"/><ellipse cx="388.50" cy="262.26" rx="1.4" ry="0.8"/><ellipse cx="393.00" cy="262.26" rx="1.4" ry="0.8"/><ellipse cx="397.50" cy="262.26" rx="1.4" ry="0.8"/><ellipse cx="390.75" cy="264.59" rx="1.4" ry="0.8"/><ellipse cx="395.25" cy="264.59" rx="1.4" ry="0.8"/><ellipse cx="399.75" cy="264.59" rx="1.4" ry="0.8"/><ellipse cx="388.50" cy="266.92" rx="1.4" ry="0.8"/><ellipse cx="393.00" cy="266.92" rx="1.4" ry="0.8"/><ellipse cx="397.50" cy="266.92" rx="1.4" ry="0.8"/><ellipse cx="390.75" cy="269.25" rx="1.4" ry="0.8"/><ellipse cx="395.25" cy="269.25" rx="1.4" ry="0.8"/><ellipse cx="399.75" cy="269.25" rx="1.4" ry="0.8"/><ellipse cx="388.50" cy="271.58" rx="1.4" ry="0.8"/><ellipse cx="393.00" cy="271.58" rx="1.4" ry="0.8"/><ellipse cx="397.50" cy="271.58" rx="1.4" ry="0.8"/><ellipse cx="390.75" cy="273.91" rx="1.4" ry="0.8"/><ellipse cx="395.25" cy="273.91" rx="1.4" ry="0.8"/><ellipse cx="399.75" cy="273.91" rx="1.4" ry="0.8"/></g>
<line x1="407.6" y1="194.4" x2="407.6" y2="202.5" stroke="#111" stroke-width="1.3" />
<line x1="404.8" y1="194.4" x2="410.40000000000003" y2="194.4" stroke="#111" stroke-width="1.4" />
<clipPath id="c12"><rect x="403.4" y="203.7" width="8.400000000000034" height="71.19999999999999"/></clipPath>
<rect x="402.8" y="203.1" width="9.600000000000012" height="71.79999999999998" fill="#0c0c0c" stroke="#0c0c0c" stroke-width="1.2"/>
<g clip-path="url(#c12)" fill="#fff"><ellipse cx="402.00" cy="204.50" rx="1.4" ry="0.8"/><ellipse cx="406.50" cy="204.50" rx="1.4" ry="0.8"/><ellipse cx="411.00" cy="204.50" rx="1.4" ry="0.8"/><ellipse cx="404.25" cy="206.83" rx="1.4" ry="0.8"/><ellipse cx="408.75" cy="206.83" rx="1.4" ry="0.8"/><ellipse cx="413.25" cy="206.83" rx="1.4" ry="0.8"/><ellipse cx="402.00" cy="209.16" rx="1.4" ry="0.8"/><ellipse cx="406.50" cy="209.16" rx="1.4" ry="0.8"/><ellipse cx="411.00" cy="209.16" rx="1.4" ry="0.8"/><ellipse cx="404.25" cy="211.49" rx="1.4" ry="0.8"/><ellipse cx="408.75" cy="211.49" rx="1.4" ry="0.8"/><ellipse cx="413.25" cy="211.49" rx="1.4" ry="0.8"/><ellipse cx="402.00" cy="213.82" rx="1.4" ry="0.8"/><ellipse cx="406.50" cy="213.82" rx="1.4" ry="0.8"/><ellipse cx="411.00" cy="213.82" rx="1.4" ry="0.8"/><ellipse cx="404.25" cy="216.15" rx="1.4" ry="0.8"/><ellipse cx="408.75" cy="216.15" rx="1.4" ry="0.8"/><ellipse cx="413.25" cy="216.15" rx="1.4" ry="0.8"/><ellipse cx="402.00" cy="218.48" rx="1.4" ry="0.8"/><ellipse cx="406.50" cy="218.48" rx="1.4" ry="0.8"/><ellipse cx="411.00" cy="218.48" rx="1.4" ry="0.8"/><ellipse cx="404.25" cy="220.81" rx="1.4" ry="0.8"/><ellipse cx="408.75" cy="220.81" rx="1.4" ry="0.8"/><ellipse cx="413.25" cy="220.81" rx="1.4" ry="0.8"/><ellipse cx="402.00" cy="223.14" rx="1.4" ry="0.8"/><ellipse cx="406.50" cy="223.14" rx="1.4" ry="0.8"/><ellipse cx="411.00" cy="223.14" rx="1.4" ry="0.8"/><ellipse cx="404.25" cy="225.47" rx="1.4" ry="0.8"/><ellipse cx="408.75" cy="225.47" rx="1.4" ry="0.8"/><ellipse cx="413.25" cy="225.47" rx="1.4" ry="0.8"/><ellipse cx="402.00" cy="227.80" rx="1.4" ry="0.8"/><ellipse cx="406.50" cy="227.80" rx="1.4" ry="0.8"/><ellipse cx="411.00" cy="227.80" rx="1.4" ry="0.8"/><ellipse cx="404.25" cy="230.13" rx="1.4" ry="0.8"/><ellipse cx="408.75" cy="230.13" rx="1.4" ry="0.8"/><ellipse cx="413.25" cy="230.13" rx="1.4" ry="0.8"/><ellipse cx="402.00" cy="232.46" rx="1.4" ry="0.8"/><ellipse cx="406.50" cy="232.46" rx="1.4" ry="0.8"/><ellipse cx="411.00" cy="232.46" rx="1.4" ry="0.8"/><ellipse cx="404.25" cy="234.79" rx="1.4" ry="0.8"/><ellipse cx="408.75" cy="234.79" rx="1.4" ry="0.8"/><ellipse cx="413.25" cy="234.79" rx="1.4" ry="0.8"/><ellipse cx="402.00" cy="237.12" rx="1.4" ry="0.8"/><ellipse cx="406.50" cy="237.12" rx="1.4" ry="0.8"/><ellipse cx="411.00" cy="237.12" rx="1.4" ry="0.8"/><ellipse cx="404.25" cy="239.45" rx="1.4" ry="0.8"/><ellipse cx="408.75" cy="239.45" rx="1.4" ry="0.8"/><ellipse cx="413.25" cy="239.45" rx="1.4" ry="0.8"/><ellipse cx="402.00" cy="241.78" rx="1.4" ry="0.8"/><ellipse cx="406.50" cy="241.78" rx="1.4" ry="0.8"/><ellipse cx="411.00" cy="241.78" rx="1.4" ry="0.8"/><ellipse cx="404.25" cy="244.11" rx="1.4" ry="0.8"/><ellipse cx="408.75" cy="244.11" rx="1.4" ry="0.8"/><ellipse cx="413.25" cy="244.11" rx="1.4" ry="0.8"/><ellipse cx="402.00" cy="246.44" rx="1.4" ry="0.8"/><ellipse cx="406.50" cy="246.44" rx="1.4" ry="0.8"/><ellipse cx="411.00" cy="246.44" rx="1.4" ry="0.8"/><ellipse cx="404.25" cy="248.77" rx="1.4" ry="0.8"/><ellipse cx="408.75" cy="248.77" rx="1.4" ry="0.8"/><ellipse cx="413.25" cy="248.77" rx="1.4" ry="0.8"/><ellipse cx="402.00" cy="251.10" rx="1.4" ry="0.8"/><ellipse cx="406.50" cy="251.10" rx="1.4" ry="0.8"/><ellipse cx="411.00" cy="251.10" rx="1.4" ry="0.8"/><ellipse cx="404.25" cy="253.43" rx="1.4" ry="0.8"/><ellipse cx="408.75" cy="253.43" rx="1.4" ry="0.8"/><ellipse cx="413.25" cy="253.43" rx="1.4" ry="0.8"/><ellipse cx="402.00" cy="255.76" rx="1.4" ry="0.8"/><ellipse cx="406.50" cy="255.76" rx="1.4" ry="0.8"/><ellipse cx="411.00" cy="255.76" rx="1.4" ry="0.8"/><ellipse cx="404.25" cy="258.09" rx="1.4" ry="0.8"/><ellipse cx="408.75" cy="258.09" rx="1.4" ry="0.8"/><ellipse cx="413.25" cy="258.09" rx="1.4" ry="0.8"/><ellipse cx="402.00" cy="260.42" rx="1.4" ry="0.8"/><ellipse cx="406.50" cy="260.42" rx="1.4" ry="0.8"/><ellipse cx="411.00" cy="260.42" rx="1.4" ry="0.8"/><ellipse cx="404.25" cy="262.75" rx="1.4" ry="0.8"/><ellipse cx="408.75" cy="262.75" rx="1.4" ry="0.8"/><ellipse cx="413.25" cy="262.75" rx="1.4" ry="0.8"/><ellipse cx="402.00" cy="265.08" rx="1.4" ry="0.8"/><ellipse cx="406.50" cy="265.08" rx="1.4" ry="0.8"/><ellipse cx="411.00" cy="265.08" rx="1.4" ry="0.8"/><ellipse cx="404.25" cy="267.41" rx="1.4" ry="0.8"/><ellipse cx="408.75" cy="267.41" rx="1.4" ry="0.8"/><ellipse cx="413.25" cy="267.41" rx="1.4" ry="0.8"/><ellipse cx="402.00" cy="269.74" rx="1.4" ry="0.8"/><ellipse cx="406.50" cy="269.74" rx="1.4" ry="0.8"/><ellipse cx="411.00" cy="269.74" rx="1.4" ry="0.8"/><ellipse cx="404.25" cy="272.07" rx="1.4" ry="0.8"/><ellipse cx="408.75" cy="272.07" rx="1.4" ry="0.8"/><ellipse cx="413.25" cy="272.07" rx="1.4" ry="0.8"/><ellipse cx="402.00" cy="274.40" rx="1.4" ry="0.8"/><ellipse cx="406.50" cy="274.40" rx="1.4" ry="0.8"/><ellipse cx="411.00" cy="274.40" rx="1.4" ry="0.8"/></g>
<line x1="426.95" y1="236.3" x2="426.95" y2="242.6" stroke="#111" stroke-width="1.3" />
<line x1="424.45" y1="236.3" x2="429.45" y2="236.3" stroke="#111" stroke-width="1.4" />
<rect x="422.0" y="243.2" width="9.900000000000023" height="31.69999999999998" fill="#fff" stroke="#111" stroke-width="1.2"/>
<line x1="440.7" y1="231.9" x2="440.7" y2="238.3" stroke="#111" stroke-width="1.3" />
<line x1="438.0" y1="231.9" x2="443.4" y2="231.9" stroke="#111" stroke-width="1.4" />
<clipPath id="c13"><rect x="436.2" y="239.5" width="9.0" height="35.39999999999998"/></clipPath>
<rect x="435.6" y="238.9" width="10.199999999999978" height="35.999999999999964" fill="#0c0c0c" stroke="#0c0c0c" stroke-width="1.2"/>
<g clip-path="url(#c13)" fill="#fff"><ellipse cx="433.50" cy="240.30" rx="1.4" ry="0.8"/><ellipse cx="438.00" cy="240.30" rx="1.4" ry="0.8"/><ellipse cx="442.50" cy="240.30" rx="1.4" ry="0.8"/><ellipse cx="447.00" cy="240.30" rx="1.4" ry="0.8"/><ellipse cx="435.75" cy="242.63" rx="1.4" ry="0.8"/><ellipse cx="440.25" cy="242.63" rx="1.4" ry="0.8"/><ellipse cx="444.75" cy="242.63" rx="1.4" ry="0.8"/><ellipse cx="433.50" cy="244.96" rx="1.4" ry="0.8"/><ellipse cx="438.00" cy="244.96" rx="1.4" ry="0.8"/><ellipse cx="442.50" cy="244.96" rx="1.4" ry="0.8"/><ellipse cx="447.00" cy="244.96" rx="1.4" ry="0.8"/><ellipse cx="435.75" cy="247.29" rx="1.4" ry="0.8"/><ellipse cx="440.25" cy="247.29" rx="1.4" ry="0.8"/><ellipse cx="444.75" cy="247.29" rx="1.4" ry="0.8"/><ellipse cx="433.50" cy="249.62" rx="1.4" ry="0.8"/><ellipse cx="438.00" cy="249.62" rx="1.4" ry="0.8"/><ellipse cx="442.50" cy="249.62" rx="1.4" ry="0.8"/><ellipse cx="447.00" cy="249.62" rx="1.4" ry="0.8"/><ellipse cx="435.75" cy="251.95" rx="1.4" ry="0.8"/><ellipse cx="440.25" cy="251.95" rx="1.4" ry="0.8"/><ellipse cx="444.75" cy="251.95" rx="1.4" ry="0.8"/><ellipse cx="433.50" cy="254.28" rx="1.4" ry="0.8"/><ellipse cx="438.00" cy="254.28" rx="1.4" ry="0.8"/><ellipse cx="442.50" cy="254.28" rx="1.4" ry="0.8"/><ellipse cx="447.00" cy="254.28" rx="1.4" ry="0.8"/><ellipse cx="435.75" cy="256.61" rx="1.4" ry="0.8"/><ellipse cx="440.25" cy="256.61" rx="1.4" ry="0.8"/><ellipse cx="444.75" cy="256.61" rx="1.4" ry="0.8"/><ellipse cx="433.50" cy="258.94" rx="1.4" ry="0.8"/><ellipse cx="438.00" cy="258.94" rx="1.4" ry="0.8"/><ellipse cx="442.50" cy="258.94" rx="1.4" ry="0.8"/><ellipse cx="447.00" cy="258.94" rx="1.4" ry="0.8"/><ellipse cx="435.75" cy="261.27" rx="1.4" ry="0.8"/><ellipse cx="440.25" cy="261.27" rx="1.4" ry="0.8"/><ellipse cx="444.75" cy="261.27" rx="1.4" ry="0.8"/><ellipse cx="433.50" cy="263.60" rx="1.4" ry="0.8"/><ellipse cx="438.00" cy="263.60" rx="1.4" ry="0.8"/><ellipse cx="442.50" cy="263.60" rx="1.4" ry="0.8"/><ellipse cx="447.00" cy="263.60" rx="1.4" ry="0.8"/><ellipse cx="435.75" cy="265.93" rx="1.4" ry="0.8"/><ellipse cx="440.25" cy="265.93" rx="1.4" ry="0.8"/><ellipse cx="444.75" cy="265.93" rx="1.4" ry="0.8"/><ellipse cx="433.50" cy="268.26" rx="1.4" ry="0.8"/><ellipse cx="438.00" cy="268.26" rx="1.4" ry="0.8"/><ellipse cx="442.50" cy="268.26" rx="1.4" ry="0.8"/><ellipse cx="447.00" cy="268.26" rx="1.4" ry="0.8"/><ellipse cx="435.75" cy="270.59" rx="1.4" ry="0.8"/><ellipse cx="440.25" cy="270.59" rx="1.4" ry="0.8"/><ellipse cx="444.75" cy="270.59" rx="1.4" ry="0.8"/><ellipse cx="433.50" cy="272.92" rx="1.4" ry="0.8"/><ellipse cx="438.00" cy="272.92" rx="1.4" ry="0.8"/><ellipse cx="442.50" cy="272.92" rx="1.4" ry="0.8"/><ellipse cx="447.00" cy="272.92" rx="1.4" ry="0.8"/><ellipse cx="435.75" cy="275.25" rx="1.4" ry="0.8"/><ellipse cx="440.25" cy="275.25" rx="1.4" ry="0.8"/><ellipse cx="444.75" cy="275.25" rx="1.4" ry="0.8"/></g>
<line x1="454.2" y1="205.2" x2="454.2" y2="214.2" stroke="#111" stroke-width="1.3" />
<line x1="451.3" y1="205.2" x2="457.09999999999997" y2="205.2" stroke="#111" stroke-width="1.4" />
<clipPath id="c14"><rect x="449.59999999999997" y="215.39999999999998" width="9.200000000000045" height="59.5"/></clipPath>
<rect x="449.0" y="214.79999999999998" width="10.400000000000023" height="60.09999999999999" fill="#0c0c0c" stroke="#0c0c0c" stroke-width="1.2"/>
<g clip-path="url(#c14)" fill="#fff"><ellipse cx="447.00" cy="216.20" rx="1.4" ry="0.8"/><ellipse cx="451.50" cy="216.20" rx="1.4" ry="0.8"/><ellipse cx="456.00" cy="216.20" rx="1.4" ry="0.8"/><ellipse cx="460.50" cy="216.20" rx="1.4" ry="0.8"/><ellipse cx="449.25" cy="218.53" rx="1.4" ry="0.8"/><ellipse cx="453.75" cy="218.53" rx="1.4" ry="0.8"/><ellipse cx="458.25" cy="218.53" rx="1.4" ry="0.8"/><ellipse cx="447.00" cy="220.86" rx="1.4" ry="0.8"/><ellipse cx="451.50" cy="220.86" rx="1.4" ry="0.8"/><ellipse cx="456.00" cy="220.86" rx="1.4" ry="0.8"/><ellipse cx="460.50" cy="220.86" rx="1.4" ry="0.8"/><ellipse cx="449.25" cy="223.19" rx="1.4" ry="0.8"/><ellipse cx="453.75" cy="223.19" rx="1.4" ry="0.8"/><ellipse cx="458.25" cy="223.19" rx="1.4" ry="0.8"/><ellipse cx="447.00" cy="225.52" rx="1.4" ry="0.8"/><ellipse cx="451.50" cy="225.52" rx="1.4" ry="0.8"/><ellipse cx="456.00" cy="225.52" rx="1.4" ry="0.8"/><ellipse cx="460.50" cy="225.52" rx="1.4" ry="0.8"/><ellipse cx="449.25" cy="227.85" rx="1.4" ry="0.8"/><ellipse cx="453.75" cy="227.85" rx="1.4" ry="0.8"/><ellipse cx="458.25" cy="227.85" rx="1.4" ry="0.8"/><ellipse cx="447.00" cy="230.18" rx="1.4" ry="0.8"/><ellipse cx="451.50" cy="230.18" rx="1.4" ry="0.8"/><ellipse cx="456.00" cy="230.18" rx="1.4" ry="0.8"/><ellipse cx="460.50" cy="230.18" rx="1.4" ry="0.8"/><ellipse cx="449.25" cy="232.51" rx="1.4" ry="0.8"/><ellipse cx="453.75" cy="232.51" rx="1.4" ry="0.8"/><ellipse cx="458.25" cy="232.51" rx="1.4" ry="0.8"/><ellipse cx="447.00" cy="234.84" rx="1.4" ry="0.8"/><ellipse cx="451.50" cy="234.84" rx="1.4" ry="0.8"/><ellipse cx="456.00" cy="234.84" rx="1.4" ry="0.8"/><ellipse cx="460.50" cy="234.84" rx="1.4" ry="0.8"/><ellipse cx="449.25" cy="237.17" rx="1.4" ry="0.8"/><ellipse cx="453.75" cy="237.17" rx="1.4" ry="0.8"/><ellipse cx="458.25" cy="237.17" rx="1.4" ry="0.8"/><ellipse cx="447.00" cy="239.50" rx="1.4" ry="0.8"/><ellipse cx="451.50" cy="239.50" rx="1.4" ry="0.8"/><ellipse cx="456.00" cy="239.50" rx="1.4" ry="0.8"/><ellipse cx="460.50" cy="239.50" rx="1.4" ry="0.8"/><ellipse cx="449.25" cy="241.83" rx="1.4" ry="0.8"/><ellipse cx="453.75" cy="241.83" rx="1.4" ry="0.8"/><ellipse cx="458.25" cy="241.83" rx="1.4" ry="0.8"/><ellipse cx="447.00" cy="244.16" rx="1.4" ry="0.8"/><ellipse cx="451.50" cy="244.16" rx="1.4" ry="0.8"/><ellipse cx="456.00" cy="244.16" rx="1.4" ry="0.8"/><ellipse cx="460.50" cy="244.16" rx="1.4" ry="0.8"/><ellipse cx="449.25" cy="246.49" rx="1.4" ry="0.8"/><ellipse cx="453.75" cy="246.49" rx="1.4" ry="0.8"/><ellipse cx="458.25" cy="246.49" rx="1.4" ry="0.8"/><ellipse cx="447.00" cy="248.82" rx="1.4" ry="0.8"/><ellipse cx="451.50" cy="248.82" rx="1.4" ry="0.8"/><ellipse cx="456.00" cy="248.82" rx="1.4" ry="0.8"/><ellipse cx="460.50" cy="248.82" rx="1.4" ry="0.8"/><ellipse cx="449.25" cy="251.15" rx="1.4" ry="0.8"/><ellipse cx="453.75" cy="251.15" rx="1.4" ry="0.8"/><ellipse cx="458.25" cy="251.15" rx="1.4" ry="0.8"/><ellipse cx="447.00" cy="253.48" rx="1.4" ry="0.8"/><ellipse cx="451.50" cy="253.48" rx="1.4" ry="0.8"/><ellipse cx="456.00" cy="253.48" rx="1.4" ry="0.8"/><ellipse cx="460.50" cy="253.48" rx="1.4" ry="0.8"/><ellipse cx="449.25" cy="255.81" rx="1.4" ry="0.8"/><ellipse cx="453.75" cy="255.81" rx="1.4" ry="0.8"/><ellipse cx="458.25" cy="255.81" rx="1.4" ry="0.8"/><ellipse cx="447.00" cy="258.14" rx="1.4" ry="0.8"/><ellipse cx="451.50" cy="258.14" rx="1.4" ry="0.8"/><ellipse cx="456.00" cy="258.14" rx="1.4" ry="0.8"/><ellipse cx="460.50" cy="258.14" rx="1.4" ry="0.8"/><ellipse cx="449.25" cy="260.47" rx="1.4" ry="0.8"/><ellipse cx="453.75" cy="260.47" rx="1.4" ry="0.8"/><ellipse cx="458.25" cy="260.47" rx="1.4" ry="0.8"/><ellipse cx="447.00" cy="262.80" rx="1.4" ry="0.8"/><ellipse cx="451.50" cy="262.80" rx="1.4" ry="0.8"/><ellipse cx="456.00" cy="262.80" rx="1.4" ry="0.8"/><ellipse cx="460.50" cy="262.80" rx="1.4" ry="0.8"/><ellipse cx="449.25" cy="265.13" rx="1.4" ry="0.8"/><ellipse cx="453.75" cy="265.13" rx="1.4" ry="0.8"/><ellipse cx="458.25" cy="265.13" rx="1.4" ry="0.8"/><ellipse cx="447.00" cy="267.46" rx="1.4" ry="0.8"/><ellipse cx="451.50" cy="267.46" rx="1.4" ry="0.8"/><ellipse cx="456.00" cy="267.46" rx="1.4" ry="0.8"/><ellipse cx="460.50" cy="267.46" rx="1.4" ry="0.8"/><ellipse cx="449.25" cy="269.79" rx="1.4" ry="0.8"/><ellipse cx="453.75" cy="269.79" rx="1.4" ry="0.8"/><ellipse cx="458.25" cy="269.79" rx="1.4" ry="0.8"/><ellipse cx="447.00" cy="272.12" rx="1.4" ry="0.8"/><ellipse cx="451.50" cy="272.12" rx="1.4" ry="0.8"/><ellipse cx="456.00" cy="272.12" rx="1.4" ry="0.8"/><ellipse cx="460.50" cy="272.12" rx="1.4" ry="0.8"/><ellipse cx="449.25" cy="274.45" rx="1.4" ry="0.8"/><ellipse cx="453.75" cy="274.45" rx="1.4" ry="0.8"/><ellipse cx="458.25" cy="274.45" rx="1.4" ry="0.8"/></g>
<text transform="translate(287.3,116.2) rotate(-90)" font-size="9.8" fill="#111">Apoptotic cells (%)</text>
<text transform="translate(287.4,280) rotate(-90)" font-size="9.8" fill="#111">Apoptotic cells (%)</text>
<text transform="translate(331.6,135.2) rotate(-90)" font-size="10" text-anchor="middle" fill="#111">Cont</text>
<text transform="translate(349,135.2) rotate(-90)" font-size="10" text-anchor="middle" fill="#111">20µM</text>
<text transform="translate(396.3,135.2) rotate(-90)" font-size="10" text-anchor="middle" fill="#111">20µM</text>
<text transform="translate(442.7,135.2) rotate(-90)" font-size="10" text-anchor="middle" fill="#111">20µM</text>
<text transform="translate(492.7,135.2) rotate(-90)" font-size="10" text-anchor="middle" fill="#111">20µM</text>
<text transform="translate(363.2,135.2) rotate(-90)" font-size="10" text-anchor="middle" fill="#111">40µM</text>
<text transform="translate(409.4,135.2) rotate(-90)" font-size="10" text-anchor="middle" fill="#111">40µM</text>
<text transform="translate(456,135.2) rotate(-90)" font-size="10" text-anchor="middle" fill="#111">40µM</text>
<text transform="translate(506,135.2) rotate(-90)" font-size="10" text-anchor="middle" fill="#111">40µM</text>
<rect x="378.5" y="135.2" width="4.1" height="2.5" fill="#111"/>
<rect x="424" y="135.5" width="4.1" height="2.5" fill="#111"/>
<rect x="473.8" y="135.3" width="4.1" height="2.5" fill="#111"/>
<text transform="translate(332,290.4) rotate(-90)" font-size="10" text-anchor="middle" fill="#111">Cont</text>
<text transform="translate(348.9,290.4) rotate(-90)" font-size="10" text-anchor="middle" fill="#111">20µM</text>
<text transform="translate(397,290.4) rotate(-90)" font-size="10" text-anchor="middle" fill="#111">20µM</text>
<text transform="translate(446,290.4) rotate(-90)" font-size="10" text-anchor="middle" fill="#111">20µM</text>
<text transform="translate(362.9,290.4) rotate(-90)" font-size="10" text-anchor="middle" fill="#111">40µM</text>
<text transform="translate(410.5,290.4) rotate(-90)" font-size="10" text-anchor="middle" fill="#111">40µM</text>
<text transform="translate(459.5,290.4) rotate(-90)" font-size="10" text-anchor="middle" fill="#111">40µM</text>
<rect x="377" y="291.6" width="4.1" height="2.5" fill="#111"/>
<rect x="424.2" y="291.6" width="4.1" height="2.5" fill="#111"/>
<line x1="337.6" y1="150.6" x2="366.5" y2="150.6" stroke="#111" stroke-width="1.25" />
<line x1="372.6" y1="150.85" x2="412" y2="150.85" stroke="#111" stroke-width="1.25" />
<line x1="419.4" y1="150.85" x2="459.2" y2="150.85" stroke="#111" stroke-width="1.25" />
<line x1="469.4" y1="150.85" x2="509.2" y2="150.85" stroke="#111" stroke-width="1.25" />
<line x1="372.6" y1="165.35" x2="412" y2="165.35" stroke="#111" stroke-width="1.25" />
<line x1="419.4" y1="165.35" x2="459.2" y2="165.35" stroke="#111" stroke-width="1.25" />
<line x1="469.4" y1="165.35" x2="509.2" y2="165.35" stroke="#111" stroke-width="1.25" />
<text x="341.8" y="160.6" font-size="10" fill="#111">H<tspan font-size="6.3" dy="2.9">2</tspan><tspan dy="-2.9">O</tspan><tspan font-size="6.3" dy="2.9">2</tspan></text>
<text x="383.6" y="160.6" font-size="10" fill="#111">H<tspan font-size="6.3" dy="2.9">2</tspan><tspan dy="-2.9">O</tspan><tspan font-size="6.3" dy="2.9">2</tspan></text>
<text x="429.8" y="160.6" font-size="10" fill="#111">H<tspan font-size="6.3" dy="2.9">2</tspan><tspan dy="-2.9">O</tspan><tspan font-size="6.3" dy="2.9">2</tspan></text>
<text x="479.8" y="160.6" font-size="10" fill="#111">H<tspan font-size="6.3" dy="2.9">2</tspan><tspan dy="-2.9">O</tspan><tspan font-size="6.3" dy="2.9">2</tspan></text>
<text x="376" y="175.5" font-size="10" text-anchor="start" fill="#111" >As 1µM</text>
<text x="423.5" y="175.5" font-size="10" text-anchor="start" fill="#111" >As 2µM</text>
<text x="473.5" y="175.5" font-size="10" text-anchor="start" fill="#111" >As 4µM</text>
<line x1="337.7" y1="306.9" x2="366.8" y2="306.9" stroke="#111" stroke-width="1.25" />
<line x1="372" y1="307.25" x2="415.6" y2="307.25" stroke="#111" stroke-width="1.25" />
<line x1="420.2" y1="307.25" x2="463.5" y2="307.25" stroke="#111" stroke-width="1.25" />
<line x1="372" y1="322.0" x2="415.6" y2="322.0" stroke="#111" stroke-width="1.25" />
<line x1="420.2" y1="322.0" x2="463.5" y2="322.0" stroke="#111" stroke-width="1.25" />
<text x="341.9" y="316.5" font-size="10" fill="#111">H<tspan font-size="6.3" dy="2.9">2</tspan><tspan dy="-2.9">O</tspan><tspan font-size="6.3" dy="2.9">2</tspan></text>
<text x="383.7" y="316.5" font-size="10" fill="#111">H<tspan font-size="6.3" dy="2.9">2</tspan><tspan dy="-2.9">O</tspan><tspan font-size="6.3" dy="2.9">2</tspan></text>
<text x="431.8" y="316.5" font-size="10" fill="#111">H<tspan font-size="6.3" dy="2.9">2</tspan><tspan dy="-2.9">O</tspan><tspan font-size="6.3" dy="2.9">2</tspan></text>
<text x="385.7" y="332" font-size="10" text-anchor="start" fill="#111" >Cpt</text>
<text x="428" y="332" font-size="10.2" text-anchor="start" fill="#111" >CDDP</text>
</svg></body></html>
